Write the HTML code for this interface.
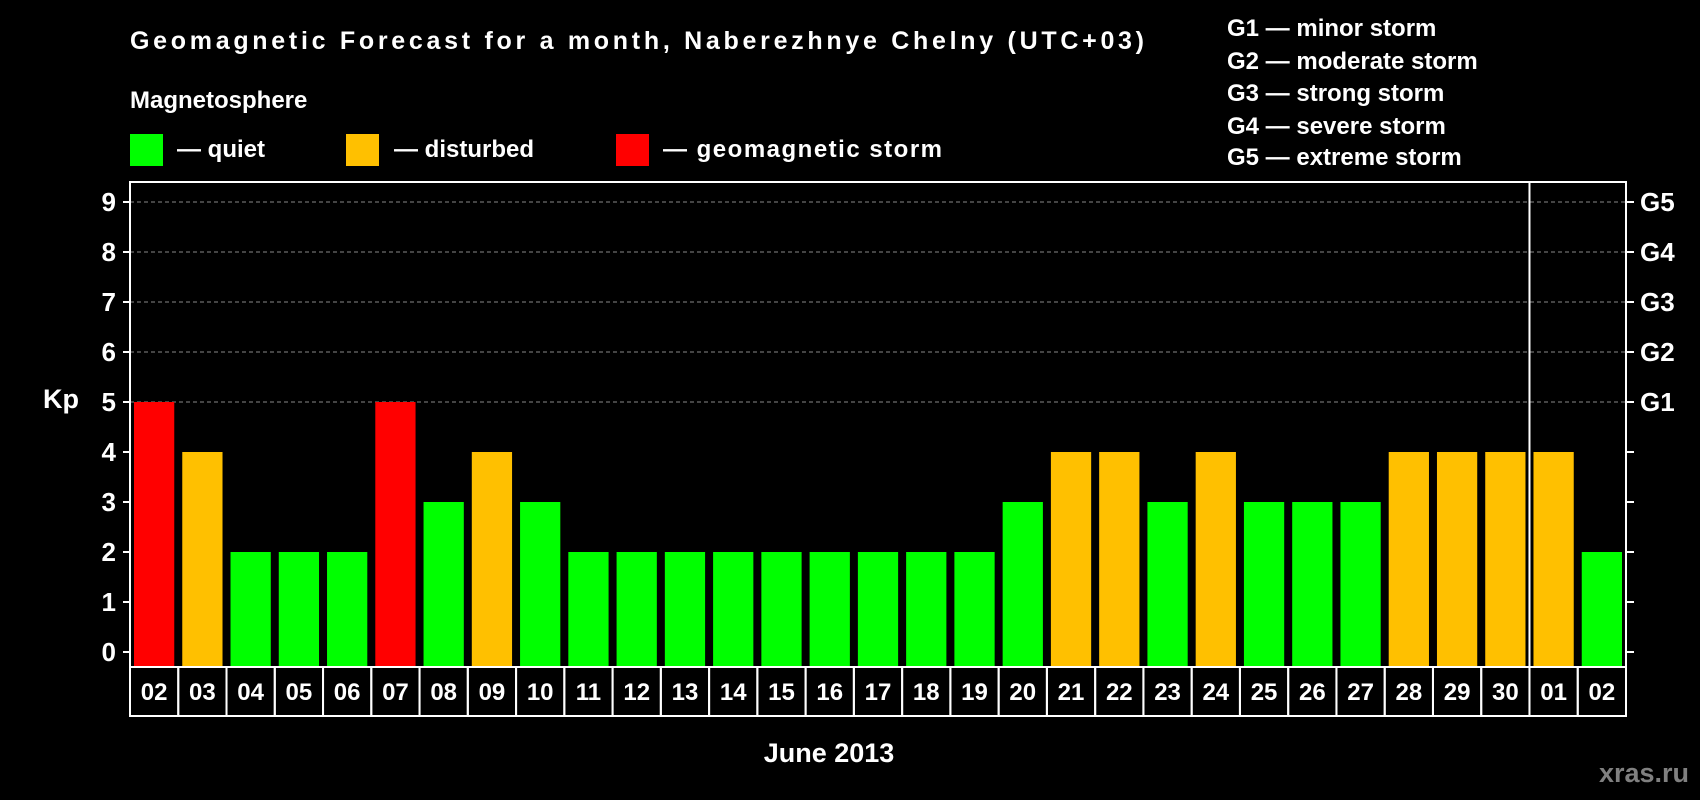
<!DOCTYPE html>
<html><head><meta charset="utf-8"><style>
html,body{margin:0;padding:0;background:#000;}
svg{display:block;font-family:"Liberation Sans",Arial,sans-serif;font-weight:bold;}
</style></head><body>
<svg id="chart" width="1700" height="800" viewBox="0 0 1700 800">
<text x="130" y="49" fill="#fff" font-size="25" textLength="1014">Geomagnetic Forecast for a month, Naberezhnye Chelny (UTC+03)</text>
<text x="130" y="108" fill="#fff" font-size="24">Magnetosphere</text>
<g><rect x="130" y="134" width="33" height="32" fill="#00ff00"/><text x="177" y="157" fill="#fff" font-size="24">— quiet</text></g>
<g><rect x="346" y="134" width="33" height="32" fill="#ffc000"/><text x="394" y="157" fill="#fff" font-size="24">— disturbed</text></g>
<g><rect x="616" y="134" width="33" height="32" fill="#ff0000"/><text x="663" y="157" fill="#fff" font-size="24" textLength="279">— geomagnetic storm</text></g>
<g fill="#fff" font-size="24">
<text x="1227" y="36">G1 — minor storm</text>
<text x="1227" y="69">G2 — moderate storm</text>
<text x="1227" y="101">G3 — strong storm</text>
<text x="1227" y="134">G4 — severe storm</text>
<text x="1227" y="165">G5 — extreme storm</text>
</g>
<text x="43" y="408" fill="#fff" font-size="27">Kp</text>
<text x="829" y="762" fill="#fff" font-size="27" text-anchor="middle">June 2013</text>
<text x="1689" y="782" fill="#808080" font-size="27" text-anchor="end">xras.ru</text>
<g id="plot"></g>
</svg>
<script>
const days=["02","03","04","05","06","07","08","09","10","11","12","13","14","15","16","17","18","19","20","21","22","23","24","25","26","27","28","29","30","01","02"];
const kp=[5,4,2,2,2,5,3,4,3,2,2,2,2,2,2,2,2,2,3,4,4,3,4,3,3,3,4,4,4,4,2];
const yTicks=[0,1,2,3,4,5,6,7,8,9];
const gLabels=["G1","G2","G3","G4","G5"];
const NS="http://www.w3.org/2000/svg";
const L=130,R=1626,T=182,B=667,LB=716;
const y0=652,unit=50;
const y=v=>y0-v*unit;
const sw=(R-L)/days.length;
const x=i=>L+i*sw;
const g=document.getElementById('plot');
function mk(t,a){const e=document.createElementNS(NS,t);for(const k in a)e.setAttribute(k,a[k]);g.appendChild(e);return e;}
// grid
for(let v=5;v<=9;v++){
 const l=mk('line',{x1:L,x2:R,y1:y(v),y2:y(v),stroke:'#888','stroke-dasharray':'4,3','stroke-width':1});
 
 
}
// bars
kp.forEach((v,i)=>{
 const c=v>=5?'#ff0000':(v>=4?'#ffc000':'#00ff00');
 const r=mk('rect',{x:x(i)+4,y:y(v),width:sw-8,height:B-y(v),fill:c});
 
 
});
// frame
const fr=mk('rect',{x:L,y:T,width:R-L,height:B-T,fill:'none',stroke:'#fff','stroke-width':2});


const sep=mk('line',{x1:x(29),x2:x(29),y1:T,y2:LB,stroke:'#fff','stroke-width':2});


// y ticks
yTicks.forEach(v=>{
 mk('line',{x1:L-7,x2:L,y1:y(v),y2:y(v),stroke:'#fff','stroke-width':2});
 mk('line',{x1:R,x2:R+8,y1:y(v),y2:y(v),stroke:'#fff','stroke-width':2});
 const t=mk('text',{x:L-14,y:y(v)+9,fill:'#fff','font-size':26,'text-anchor':'end'});
 t.textContent=v;
 
 
});
gLabels.forEach((s,i)=>{
 const t=mk('text',{x:R+14,y:y(i+5)+9,fill:'#fff','font-size':26});
 t.textContent=s;
 
 
});
// x labels
days.forEach((d,i)=>{
 const r=mk('rect',{x:x(i),y:B,width:sw,height:LB-B,fill:'none',stroke:'#fff','stroke-width':2});
 
 
 const t=mk('text',{x:x(i)+sw/2,y:B+33,fill:'#fff','font-size':24,'text-anchor':'middle'});
 t.textContent=d;
 
 
});
</script>
</body></html>
